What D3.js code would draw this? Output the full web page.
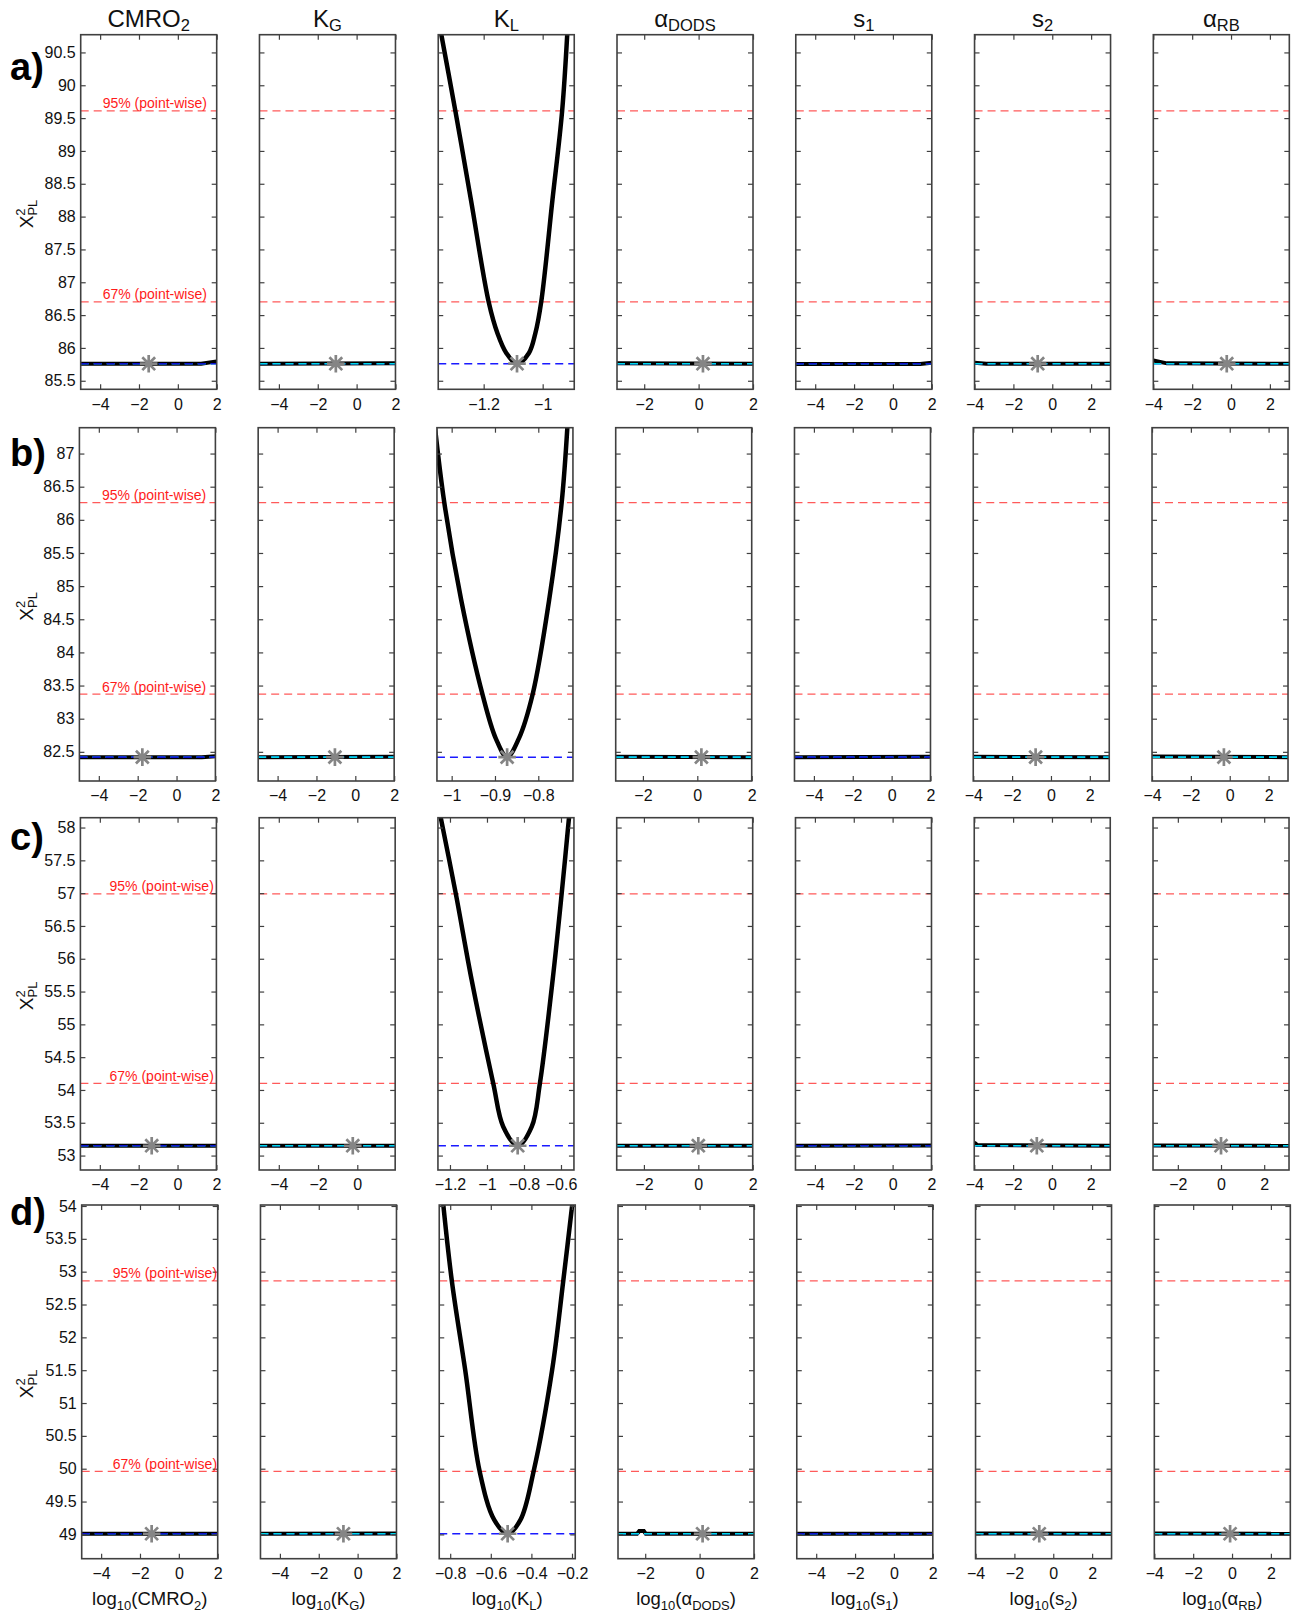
<!DOCTYPE html>
<html><head><meta charset="utf-8">
<script src="https://cdn.jsdelivr.net/npm/d3@7"></script>
<style>
body{margin:0;background:#fff;}
svg text{font-family:"Liberation Sans",Arial,Helvetica,sans-serif;}
</style></head><body>
<svg id="chart" width="1294" height="1613"></svg>
<script>
// ---------------- data ----------------
const titleMain = ["CMRO","K","K","α","s","s","α"];
const titleSub  = ["2","G","L","DODS","1","2","RB"];
const rowLabels = ["a)","b)","c)","d)"];
const chi2Min   = [85.76, 82.42, 53.15, 49.01];
const chi2Thr95 = [89.61, 86.26, 56.99, 52.86];
const chi2Thr67 = [86.70, 83.37, 54.10, 49.96];
const thrLabels = ["95% (point-wise)", "67% (point-wise)"];
const thrLabelX = [-3.87, -3.84, -3.5, -3.4];

const yDomains = [[85.37, 90.77], [82.06, 87.39], [52.78, 58.15], [48.63, 54.015]];
const yTicksA = [85.5, 86, 86.5, 87, 87.5, 88, 88.5, 89, 89.5, 90, 90.5];
const yTicksB = [82.5, 83, 83.5, 84, 84.5, 85, 85.5, 86, 86.5, 87];
const yTicksC = [53, 53.5, 54, 54.5, 55, 55.5, 56, 56.5, 57, 57.5, 58];
const yTicksD = [49, 49.5, 50, 50.5, 51, 51.5, 52, 52.5, 53, 53.5, 54];

const xDomainsA = [[-5,2],[-5,2],[-1.354,-0.893],[-3,2],[-5,2],[-4,3],[-4,3]];
const xDomainsB = [[-5,2],[-5,2],[-1.034,-0.72],[-3,2],[-5,2],[-4,3],[-4,3]];
const xDomainsC = [[-5,2],[-5,1.93],[-1.265,-0.53],[-3,2],[-5,2],[-4,3],[-3.15,3.15]];
const xDomainsD = [[-5,2],[-5,2],[-0.854,-0.184],[-3,2],[-5,2],[-4,3],[-4,3]];

const logTicks = [-4, -2, 0, 2];
const klTicksA = [-1.2, -1];
const klTicksB = [-1, -0.9, -0.8];
const klTicksC = [-1.2, -1, -0.8, -0.6];
const klTicksD = [-0.8, -0.6, -0.4, -0.2];

const optimumA = [-1.5, -1.07, -1.087, 0.16, null, -0.75, -0.22];
const optimumB = [-1.76, -1.05, -0.872, 0.15, null, -0.79, -0.3];
const optimumC = [-1.33, -0.23, -0.834, 0.0, null, -0.78, 0.0];
const optimumD = [-1.4, -0.73, -0.517, 0.11, null, -0.72, -0.1];

// profile of K_L (x = log10(K_L), y = chi2_PL)
const klProfileA = [[-1.353,91.0],[-1.296,89.61],[-1.243,88.25],[-1.183,86.70],[-1.153,86.22],[-1.123,85.92],[-1.087,85.76],[-1.047,85.92],[-1.025,86.22],[-1.005,86.70],[-0.967,88.25],[-0.934,89.61],[-0.914,91.0]];
const klProfileB = [[-1.042,87.6],[-1.017,86.26],[-0.978,84.79],[-0.929,83.37],[-0.898,82.70],[-0.872,82.42],[-0.845,82.70],[-0.813,83.37],[-0.775,84.79],[-0.746,86.26],[-0.731,87.6]];
const klProfileC = [[-1.264,58.35],[-1.169,57.0],[-1.083,55.68],[-0.966,54.10],[-0.912,53.44],[-0.834,53.15],[-0.758,53.44],[-0.714,54.10],[-0.645,55.68],[-0.596,57.0],[-0.550,58.35]];
const klProfileD = [[-0.840,54.2],[-0.792,52.86],[-0.726,51.5],[-0.655,49.96],[-0.583,49.22],[-0.517,49.01],[-0.454,49.22],[-0.389,49.96],[-0.298,51.5],[-0.243,52.86],[-0.192,54.2]];

// flat profiles of the other parameters
const flatProfilesA = [
  [[-5,85.76],[1.2,85.76],[2,85.795]],
  [[-5,85.76],[2,85.765]],
  null,
  [[-3,85.765],[2,85.76]],
  [[-5,85.755],[1.4,85.755],[2,85.775]],
  [[-4,85.775],[-3.4,85.76],[3,85.76]],
  [[-4,85.81],[-3.3,85.765],[3,85.76]]
];
const flatProfilesB = [
  [[-5,82.42],[1.3,82.42],[2,82.435]],
  [[-5,82.42],[2,82.425]],
  null,
  [[-3,82.425],[2,82.42]],
  [[-5,82.42],[2,82.425]],
  [[-4,82.425],[3,82.42]],
  [[-4,82.43],[3,82.42]]
];
const flatProfilesC = [
  [[-5,53.15],[2,53.15]],
  [[-5,53.15],[1.93,53.15]],
  null,
  [[-3,53.15],[2,53.15]],
  [[-5,53.15],[2,53.155]],
  [[-4,53.2],[-3.85,53.16],[3,53.15]],
  [[-3.15,53.155],[3.15,53.15]]
];
const flatProfilesD = [
  [[-5,49.01],[2,49.01]],
  [[-5,49.01],[2,49.015]],
  null,
  [[-3,49.01],[-2.3,49.01],[-2.22,49.05],[-2.05,49.05],[-1.98,49.01],[2,49.01]],
  [[-5,49.01],[2,49.01]],
  [[-4,49.015],[3,49.01]],
  [[-4,49.015],[3,49.01]]
];

// ---------------- assemble ----------------
const yTicks = [yTicksA, yTicksB, yTicksC, yTicksD];
const xDomains = [xDomainsA, xDomainsB, xDomainsC, xDomainsD];
const klTicks = [klTicksA, klTicksB, klTicksC, klTicksD];
const optimum = [optimumA, optimumB, optimumC, optimumD];
const klProfiles = [klProfileA, klProfileB, klProfileC, klProfileD];
const flatProfiles = [flatProfilesA, flatProfilesB, flatProfilesC, flatProfilesD];

// ---------------- layout ----------------
const colLeft0 = 80.7, colPitch = 178.77, panelW = 136;
const rowTop = [34.7, 427.7, 817.7, 1205];
const rowBottom = [389.3, 781, 1170, 1558.7];
const rowShift = [0, -1.3, -0.3, 1];
const rowLabelBase = [80, 466, 850, 1225];
const blueOnTop = [true, false, false, false, true, false, false];
const klCol = 2;

const svg = d3.select("#chart");
svg.append("rect").attr("width",1294).attr("height",1613).attr("fill","#fff");
const defs = svg.append("defs");

const AX = "#404040";
const fmtX = d3.format("~g");

function asteriskPath(cx, cy) {
  const r = 8.8, d = 6.4;
  return `M${cx-r},${cy}L${cx+r},${cy}M${cx},${cy-r}L${cx},${cy+r}` +
         `M${cx-d},${cy-d}L${cx+d},${cy+d}M${cx-d},${cy+d}L${cx+d},${cy-d}`;
}

for (let r = 0; r < 4; r++) {
  const yScale = d3.scaleLinear().domain(yDomains[r]).range([rowBottom[r], rowTop[r]]);
  for (let c = 0; c < 7; c++) {
    const x0 = colLeft0 + c * colPitch + rowShift[r];
    const xScale = d3.scaleLinear().domain(xDomains[r][c]).range([x0, x0 + panelW]);
    const [xa, xb] = xScale.range();
    const g = svg.append("g");
    const clipId = `clip-${r}-${c}`;
    defs.append("clipPath").attr("id", clipId).append("rect")
      .attr("x", xa).attr("y", rowTop[r]).attr("width", xb - xa).attr("height", rowBottom[r] - rowTop[r]);
    const plot = g.append("g").attr("clip-path", `url(#${clipId})`);

    // threshold lines
    [chi2Thr95[r], chi2Thr67[r]].forEach(v => {
      plot.append("line").attr("x1", xa).attr("x2", xb)
        .attr("y1", yScale(v)).attr("y2", yScale(v))
        .attr("stroke", "#ff5a5a").attr("stroke-width", 1.2).attr("stroke-dasharray", "8,5");
    });

    const line = d3.line().x(d => xScale(d[0])).y(d => yScale(d[1]));
    const minY = yScale(chi2Min[r]);

    if (c === klCol) {
      plot.append("line").attr("x1", xa).attr("x2", xb).attr("y1", minY).attr("y2", minY)
        .attr("stroke", "#1a1aff").attr("stroke-width", 1.5).attr("stroke-dasharray", "8,5");
      plot.append("path").datum(klProfiles[r])
        .attr("d", line.curve(d3.curveCatmullRom.alpha(0.5)))
        .attr("fill", "none").attr("stroke", "#000").attr("stroke-width", 4.5)
        .attr("stroke-linejoin", "round");
    } else {
      plot.append("path").datum(flatProfiles[r][c])
        .attr("d", line.curve(d3.curveLinear))
        .attr("fill", "none").attr("stroke", "#000").attr("stroke-width", 4);
      const order = blueOnTop[c] ? ["#00d8e8", "#1010d0"] : ["#1010d0", "#00d8e8"];
      order.forEach(col => {
        plot.append("line").attr("x1", xa).attr("x2", xb).attr("y1", minY).attr("y2", minY)
          .attr("stroke", col).attr("stroke-width", 1.6).attr("stroke-dasharray", "8,5");
      });
    }

    // optimum
    if (optimum[r][c] !== null) {
      g.append("path").attr("d", asteriskPath(xScale(optimum[r][c]), minY))
        .attr("stroke", "#858585").attr("stroke-width", 2.7).attr("fill", "none");
    }

    // axes
    const dom = xScale.domain();
    const tv = (c === klCol ? klTicks[r] : logTicks).filter(t => t >= dom[0] - 1e-9 && t <= dom[1] + 1e-9);
    const axB = g.append("g").attr("transform", `translate(0,${rowBottom[r]})`)
      .call(d3.axisBottom(xScale).tickValues(tv).tickFormat(fmtX).tickSizeInner(-5).tickSizeOuter(0).tickPadding(9));
    const axT = g.append("g").attr("transform", `translate(0,${rowTop[r]})`)
      .call(d3.axisTop(xScale).tickValues(tv).tickSizeInner(-5).tickSizeOuter(0).tickFormat(""));
    const axL = g.append("g").attr("transform", `translate(${xa},0)`)
      .call(d3.axisLeft(yScale).tickValues(yTicks[r]).tickSizeInner(-5).tickSizeOuter(0).tickPadding(5)
        .tickFormat(c === 0 ? (d => String(d)) : ""));
    const axR = g.append("g").attr("transform", `translate(${xb},0)`)
      .call(d3.axisRight(yScale).tickValues(yTicks[r]).tickSizeInner(-5).tickSizeOuter(0).tickFormat(""));
    [axB, axT, axL, axR].forEach(a => {
      a.select(".domain").remove();
      a.selectAll(".tick line").attr("stroke", AX).attr("stroke-width", 1.2);
      a.selectAll("text").attr("font-size", 16).attr("fill", "#111")
        .attr("font-family", '"Liberation Sans",Arial,Helvetica,sans-serif');
    });
    g.append("rect").attr("x", xa).attr("y", rowTop[r]).attr("width", xb - xa)
      .attr("height", rowBottom[r] - rowTop[r]).attr("fill", "none")
      .attr("stroke", AX).attr("stroke-width", 1.6);

    // threshold labels
    if (c === 0) {
      [chi2Thr95[r], chi2Thr67[r]].forEach((v, i) => {
        g.append("text").attr("x", xScale(thrLabelX[r])).attr("y", yScale(v) - 2.5)
          .attr("font-size", 14).attr("fill", "#ff1a1a").text(thrLabels[i]);
      });
      // y label
      const midY = (rowTop[r] + rowBottom[r]) / 2;
      const yl = g.append("text").attr("transform", `translate(33,${midY + 2}) rotate(-90)`)
        .attr("text-anchor", "middle").attr("font-size", 19).attr("fill", "#111");
      yl.append("tspan").text("Χ");
      yl.append("tspan").attr("dy", -8).attr("font-size", 13).text("2");
      yl.append("tspan").attr("dx", -7.2).attr("dy", 12).attr("font-size", 13).text("PL");
      // row label
      svg.append("text").attr("x", 10).attr("y", rowLabelBase[r])
        .attr("font-size", 38).attr("font-weight", "bold").attr("fill", "#000").text(rowLabels[r]);
    }

    // titles
    if (r === 0) {
      const t = svg.append("text").attr("x", (xa + xb) / 2).attr("y", 27.3)
        .attr("text-anchor", "middle").attr("font-size", 24).attr("fill", "#111");
      t.append("tspan").text(titleMain[c]);
      t.append("tspan").attr("dy", 4).attr("font-size", 16.5).text(titleSub[c]);
    }
    // x labels
    if (r === 3) {
      const t = svg.append("text").attr("x", (xa + xb) / 2).attr("y", 1605)
        .attr("text-anchor", "middle").attr("font-size", 18.5).attr("fill", "#111");
      t.append("tspan").text("log");
      t.append("tspan").attr("dy", 5).attr("font-size", 13).text("10");
      t.append("tspan").attr("dy", -5).text("(" + titleMain[c]);
      t.append("tspan").attr("dy", 5).attr("font-size", 13).text(titleSub[c]);
      t.append("tspan").attr("dy", -5).text(")");
    }
  }
}
</script>
</body></html>
